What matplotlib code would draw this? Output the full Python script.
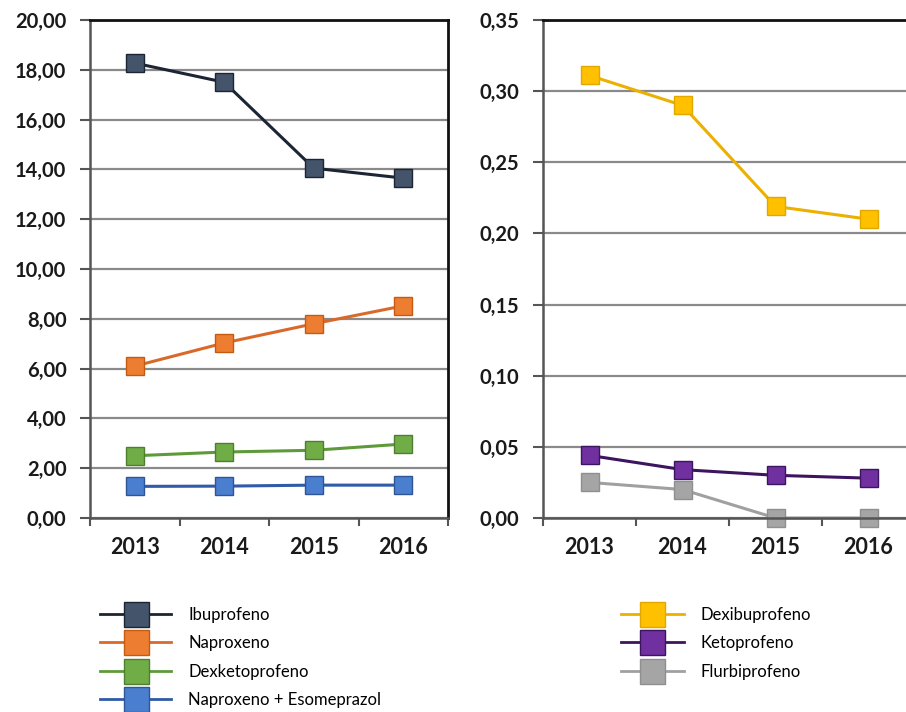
import numpy as np
import matplotlib.pyplot as plt
from matplotlib.lines import Line2D
from matplotlib.ticker import FuncFormatter

# Datos de consumo por año
anios = ['2013', '2014', '2015', '2016']

ibuprofeno = [18.27, 17.50, 14.05, 13.65]
naproxeno = [6.10, 7.03, 7.80, 8.52]
dexketoprofeno = [2.50, 2.65, 2.72, 2.97]
naproxeno_esomeprazol = [1.27, 1.28, 1.32, 1.32]

dexibuprofeno = [0.311, 0.290, 0.219, 0.210]
ketoprofeno = [0.044, 0.034, 0.030, 0.028]
flurbiprofeno = [0.025, 0.020, 0.000, 0.000]

series_izq = [
    ('Ibuprofeno', ibuprofeno, '#44546A', '#1C2533', '#1C2533'),
    ('Naproxeno', naproxeno, '#ED7D31', '#C55A11', '#D9692A'),
    ('Dexketoprofeno', dexketoprofeno, '#70AD47', '#4E7F30', '#5E9A3A'),
    ('Naproxeno + Esomeprazol', naproxeno_esomeprazol, '#4A7FD0', '#2F5597', '#2F5BA8'),
]
series_der = [
    ('Dexibuprofeno', dexibuprofeno, '#FFC000', '#E0A800', '#EBB000'),
    ('Ketoprofeno', ketoprofeno, '#7030A0', '#3D1460', '#3D1460'),
    ('Flurbiprofeno', flurbiprofeno, '#A5A5A5', '#8F8F8F', '#A0A0A0'),
]

plt.rcParams['font.family'] = ['Lato', 'DejaVu Sans']

fig = plt.figure(figsize=(9.06, 7.12), dpi=100)
W, H = 906, 712

def coma(v, pos):
    return ('%.2f' % v).replace('.', ',')

def preparar(ax, ymax, paso):
    x = np.arange(len(anios))
    ax.set_xlim(-0.5, len(anios) - 0.5)
    ax.set_ylim(0, ymax)
    ax.set_yticks(np.arange(0, ymax + paso / 2, paso))
    ax.yaxis.set_major_formatter(FuncFormatter(coma))
    ax.set_xticks(x)
    ax.set_xticklabels(anios)
    ax.set_xticks(np.arange(-0.5, len(anios)), minor=True)
    ax.tick_params(axis='x', which='major', length=0, pad=14, labelsize=15.5)
    ax.tick_params(axis='x', which='minor', length=6, width=1.5, color='#555555')
    ax.tick_params(axis='y', length=7, width=1.5, color='#555555', pad=10, labelsize=14.5)
    for lab in ax.get_yticklabels() + ax.get_xticklabels():
        lab.set_fontweight('bold')
        lab.set_color('#1a1a1a')
    ax.grid(axis='y', color='#8a8a8a', linewidth=1.6)
    ax.set_axisbelow(True)
    ax.spines['top'].set_linewidth(2.0)
    ax.spines['top'].set_color('#111111')
    ax.spines['right'].set_linewidth(2.0)
    ax.spines['right'].set_color('#111111')
    ax.spines['left'].set_linewidth(1.8)
    ax.spines['left'].set_color('#555555')
    ax.spines['bottom'].set_linewidth(1.8)
    ax.spines['bottom'].set_color('#555555')
    return x

# Panel izquierdo
ax1 = fig.add_axes([90 / W, 1 - 518 / H, 358 / W, 498 / H])
x = preparar(ax1, 20, 2)
for nombre, datos, color, borde, linea in series_izq:
    ax1.plot(x, datos, color=linea, linewidth=2.2, marker='s', markersize=13,
             markerfacecolor=color, markeredgecolor=borde, markeredgewidth=1.0)

# Panel derecho
ax2 = fig.add_axes([543 / W, 1 - 518 / H, 372 / W, 498 / H])
x = preparar(ax2, 0.35, 0.05)
ax2.spines['right'].set_visible(False)
for nombre, datos, color, borde, linea in series_der:
    ax2.plot(x, datos, color=linea, linewidth=2.2, marker='s', markersize=13,
             markerfacecolor=color, markeredgecolor=borde, markeredgewidth=1.0,
             clip_on=False)

# Leyendas
def leyenda(series, x0, y0, largo):
    handles = [Line2D([], [], color=linea, linewidth=2, marker='s', markersize=18,
                      markerfacecolor=color, markeredgecolor=borde, markeredgewidth=1.0)
               for nombre, datos, color, borde, linea in series]
    nombres = [s[0] for s in series]
    fig.legend(handles, nombres, loc='upper left', bbox_to_anchor=(x0 / W, 1 - y0 / H),
               frameon=False, fontsize=12, handlelength=largo, handletextpad=1.0,
               labelspacing=0.75, borderaxespad=0)

leyenda(series_izq, 93, 600, 4.3)
leyenda(series_der, 614, 600, 3.8)

fig.savefig('out.png', dpi=100)
